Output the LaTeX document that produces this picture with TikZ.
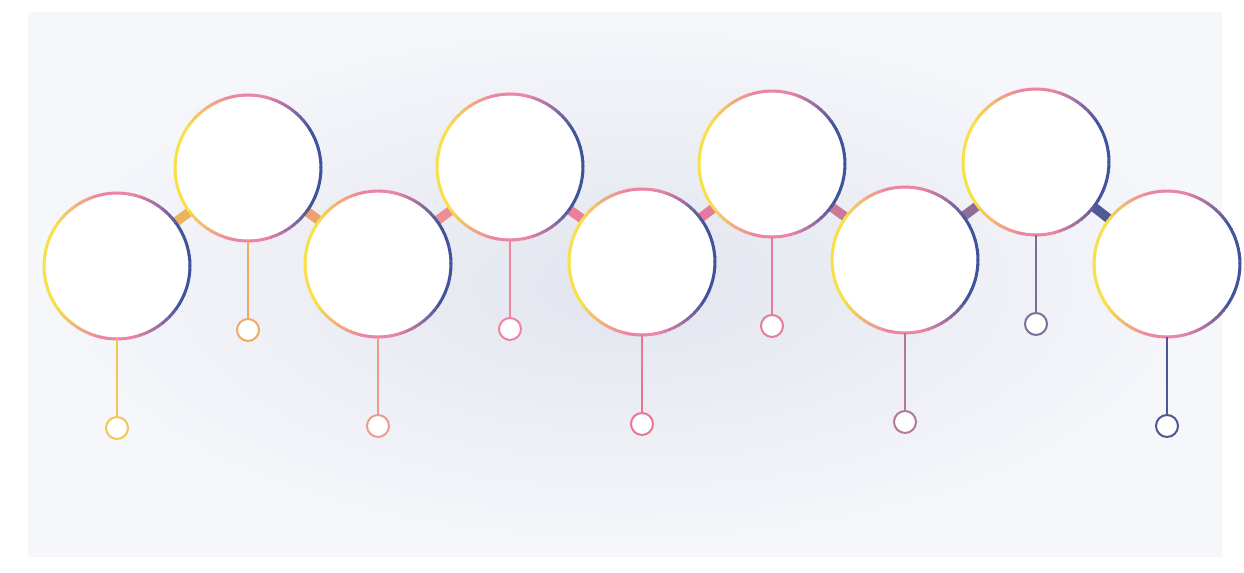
\documentclass[tikz,border=0pt]{standalone}
\usepackage{tikz}
\usetikzlibrary{positioning}

\definecolor{ringyellow}{HTML}{F7E04A}
\definecolor{ringpink}{HTML}{EC84A4}
\definecolor{ringblue}{HTML}{41539A}
\definecolor{bgmid}{HTML}{E2E5EE}
\definecolor{bgedge}{HTML}{F6F7FB}
% stem and dot colours, left to right
\definecolor{s1}{HTML}{F2C74E}
\definecolor{s2}{HTML}{F0A866}
\definecolor{s3}{HTML}{EE9A8E}
\definecolor{s4}{HTML}{EE84A0}
\definecolor{s5}{HTML}{EC7496}
\definecolor{s6}{HTML}{E47C9C}
\definecolor{s7}{HTML}{B07A9C}
\definecolor{s8}{HTML}{7C6E96}
\definecolor{s9}{HTML}{4C5894}
% link colours
\definecolor{k1}{HTML}{EDB25E}
\definecolor{k2}{HTML}{EDA070}
\definecolor{k3}{HTML}{EC8E92}
\definecolor{k4}{HTML}{EC7E9A}
\definecolor{k5}{HTML}{E67A98}
\definecolor{k6}{HTML}{C87898}
\definecolor{k7}{HTML}{8E6E96}
\definecolor{k8}{HTML}{4E5A94}

\tikzset{
  bubble/.style={circle, fill=white, minimum size=2.92cm, inner sep=0pt, outer sep=0pt},
  dot/.style={circle, fill=white, line width=0.4mm, minimum size=0.44cm, inner sep=0pt, outer sep=0pt},
  stem/.style={line width=0.4mm},
  link/.style={line width=1.9mm},
  ring/.style={line width=0.6mm}
}

\begin{document}
\begin{tikzpicture}[x=0.02cm, y=-0.02cm]
            \useasboundingbox (0,0) rectangle (1244,572);
            \fill[white] (0,0) rectangle (1244,572);
            \shade[inner color=bgmid, outer color=bgedge] (28,12) rectangle (1222,556);
            % bubbles
            \foreach \n/\x/\y in {1/117/266, 2/248/168, 3/378/264, 4/510/167, 5/642/262,
                                  6/772/164, 7/905/260, 8/1036/162, 9/1167/264}
                \node[bubble] (b\n) at (\x,\y) {};
            % links between bubbles
            \foreach \n/\m in {1/2, 2/3, 3/4, 4/5, 5/6, 6/7, 7/8, 8/9}
                \draw[link, k\n] (b\n) -- (b\m);
            % rings: yellow left, pink top and bottom, blue right
            \foreach \n in {1,...,9}
                \foreach \a in {0,4,...,356} {
                    \pgfmathtruncatemacro\t{abs(\a+2-180)/1.8}
                    \pgfmathtruncatemacro\p{max(0,min(100,(\t-18)*4))}
                    \pgfmathtruncatemacro\q{max(0,min(100,(\t-57)*4))}
                    \ifnum\t<50
                        \colorlet{rc}{ringpink!\p!ringyellow}
                    \else
                        \colorlet{rc}{ringblue!\q!ringpink}
                    \fi
                    \draw[ring, rc] (b\n.\a) arc[start angle=\a, delta angle=4.6, radius=1.46cm];
                }
            % stems with end dots
            \foreach \n in {1,...,9} {
                \node[dot, draw=s\n, below=1.56cm of b\n] (d\n) {};
                \draw[stem, s\n] (b\n) -- (d\n);
            }
        \end{tikzpicture}
\end{document}
